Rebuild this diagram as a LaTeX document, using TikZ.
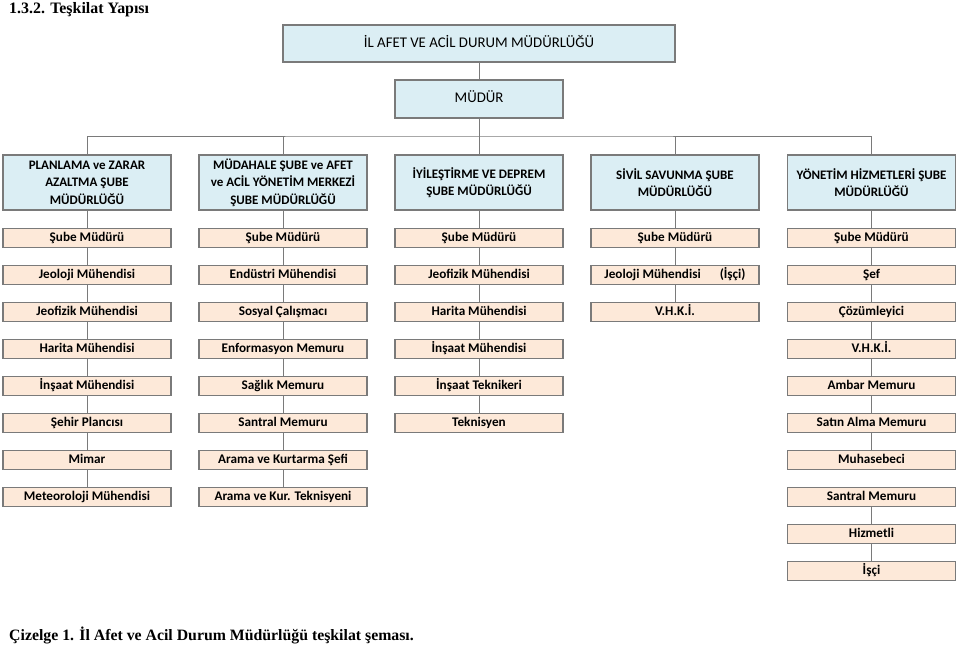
\documentclass[tikz,border=0pt]{standalone}
\usepackage{fontspec}
\setmainfont{Liberation Serif}
\newfontfamily\calfont{Carlito}
\definecolor{deptblue}{HTML}{DBEEF4}
\definecolor{peach}{HTML}{FDE9D9}
\definecolor{edge}{HTML}{7A7A7A}
\tikzset{
  box/.style={draw=edge, line width=1.2pt, inner sep=0pt, align=center, text=black},
  topbox/.style={box, fill=deptblue, minimum width=392pt, minimum height=37pt, text height=10pt, text depth=2pt, font=\calfont\fontsize{14.8}{17}\selectfont},
  deptbox/.style={box, fill=deptblue, minimum width=168pt, minimum height=55pt, font=\calfont\bfseries\fontsize{13}{17.5}\selectfont},
  smallbox/.style={box, fill=peach, minimum width=168pt, minimum height=19pt, text height=9.5pt, text depth=3pt, font=\calfont\bfseries\fontsize{13.2}{15}\selectfont},
  conn/.style={draw=edge, line width=0.9pt},
}
\begin{document}
\begin{tikzpicture}[x=1pt,y=-1pt]
\useasboundingbox (0,0) rectangle (960,647);
\node[anchor=base west, inner sep=0pt, font=\bfseries\fontsize{15.9}{18}\selectfont] (title) at (9,14) {1.3.2. Teşkilat Yapısı};
\node[anchor=base west, inner sep=0pt, font=\bfseries\fontsize{15.8}{18}\selectfont] (caption) at (9,640) {Çizelge 1. İl Afet ve Acil Durum Müdürlüğü teşkilat şeması.};

\node[topbox] (top) at (479,43.5) {İL AFET VE ACİL DURUM MÜDÜRLÜĞÜ};
\node[topbox, minimum width=168pt, minimum height=38pt] (mudur) at (479,99) {MÜDÜR};

\node[deptbox] (d1) at (87,182.5) {PLANLAMA ve ZARAR\\AZALTMA ŞUBE\\MÜDÜRLÜĞÜ};
\node[deptbox] (d2) at (283,182.5) {MÜDAHALE ŞUBE ve AFET\\ve ACİL YÖNETİM MERKEZİ\\ŞUBE MÜDÜRLÜĞÜ};
\node[deptbox] (d3) at (479,182.5) {İYİLEŞTİRME VE DEPREM\\ŞUBE MÜDÜRLÜĞÜ};
\node[deptbox] (d4) at (675,182.5) {SİVİL SAVUNMA ŞUBE\\MÜDÜRLÜĞÜ};
\node[deptbox] (d5) at (871.5,182.5) {YÖNETİM HİZMETLERİ ŞUBE\\MÜDÜRLÜĞÜ};

\coordinate (bus) at (479,136);
\draw[conn] (top.south) -- (mudur.north);
\draw[conn] (mudur.south) -- (d3.north);
\draw[conn] (d1.north) |- (bus) -| (d5.north);
\draw[conn] (d2.north) -- (d2.north |- bus);
\draw[conn] (d4.north) -- (d4.north |- bus);

\foreach \t [count=\i from 0] in {Şube Müdürü, Jeoloji Mühendisi, Jeofizik Mühendisi, Harita Mühendisi, İnşaat Mühendisi, Şehir Plancısı, Mimar, Meteoroloji Mühendisi}
  \node[smallbox] (c1r\i) at (87,{237.8+37*\i}) {\t};
\foreach \t [count=\i from 0] in {Şube Müdürü, Endüstri Mühendisi, Sosyal Çalışmacı, Enformasyon Memuru, Sağlık Memuru, Santral Memuru, Arama ve Kurtarma Şefi, Arama ve Kur. Teknisyeni}
  \node[smallbox] (c2r\i) at (283,{237.8+37*\i}) {\t};
\foreach \t [count=\i from 0] in {Şube Müdürü, Jeofizik Mühendisi, Harita Mühendisi, İnşaat Mühendisi, İnşaat Teknikeri, Teknisyen}
  \node[smallbox] (c3r\i) at (479,{237.8+37*\i}) {\t};
\foreach \t [count=\i from 0] in {Şube Müdürü, Jeoloji Mühendisi\hspace{19pt}(İşçi), V.H.K.İ.}
  \node[smallbox] (c4r\i) at (675,{237.8+37*\i}) {\t};
\foreach \t [count=\i from 0] in {Şube Müdürü, Şef, Çözümleyici, V.H.K.İ., Ambar Memuru, Satın Alma Memuru, Muhasebeci, Santral Memuru, Hizmetli, İşçi}
  \node[smallbox] (c5r\i) at (871.5,{237.8+37*\i}) {\t};

\foreach \c in {1,...,5} \draw[conn] (d\c.south) -- (c\c r0.north);
\foreach \i [remember=\i as \j (initially 0)] in {1,...,7} {
  \draw[conn] (c1r\j.south) -- (c1r\i.north);
  \draw[conn] (c2r\j.south) -- (c2r\i.north);
}
\foreach \i [remember=\i as \j (initially 0)] in {1,...,5}
  \draw[conn] (c3r\j.south) -- (c3r\i.north);
\foreach \i [remember=\i as \j (initially 0)] in {1,2}
  \draw[conn] (c4r\j.south) -- (c4r\i.north);
\foreach \a/\b in {0/1,1/2,2/3,3/4,4/5,5/6,7/8,8/9}
  \draw[conn] (c5r\a.south) -- (c5r\b.north);
\end{tikzpicture}
\end{document}
